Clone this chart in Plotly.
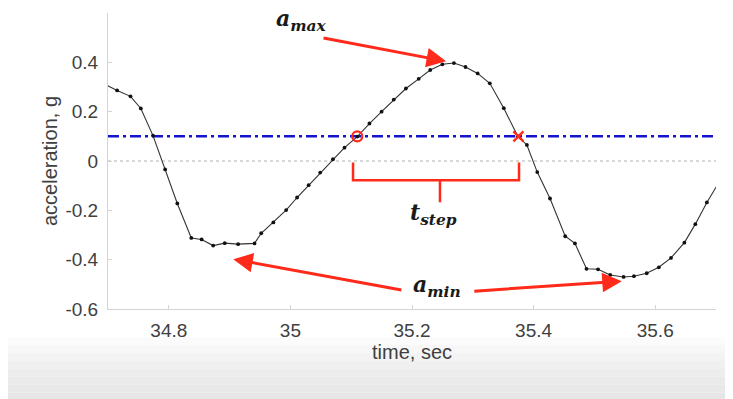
import plotly.graph_objects as go

# ---- data ----
time_s = [34.696, 34.715, 34.737, 34.754, 34.774, 34.794, 34.814, 34.837, 34.854, 34.873,
          34.892, 34.914, 34.941, 34.952, 34.972, 34.993, 35.011, 35.030, 35.049, 35.070,
          35.089, 35.110, 35.130, 35.150, 35.170, 35.190, 35.211, 35.230, 35.250, 35.269,
          35.288, 35.308, 35.328, 35.351, 35.374, 35.389, 35.406, 35.427, 35.452, 35.468,
          35.487, 35.506, 35.526, 35.548, 35.565, 35.586, 35.606, 35.626, 35.648, 35.666,
          35.685, 35.704]
accel_g = [0.310, 0.286, 0.262, 0.213, 0.103, -0.034, -0.172, -0.312, -0.318, -0.343,
           -0.333, -0.337, -0.334, -0.293, -0.249, -0.199, -0.148, -0.098, -0.047, 0.007,
           0.054, 0.099, 0.152, 0.200, 0.249, 0.294, 0.333, 0.369, 0.392, 0.397,
           0.381, 0.355, 0.315, 0.214, 0.100, 0.065, -0.045, -0.152, -0.305, -0.334,
           -0.437, -0.439, -0.462, -0.470, -0.467, -0.455, -0.431, -0.393, -0.331, -0.256,
           -0.168, -0.090]
threshold = 0.1
cross_up = (35.110, 0.1)
cross_down = (35.375, 0.1)

x_ticks = [34.8, 35.0, 35.2, 35.4, 35.6]
x_tick_text = ["34.8", "35", "35.2", "35.4", "35.6"]
y_ticks = [-0.6, -0.4, -0.2, 0, 0.2, 0.4]
y_tick_text = ["-0.6", "-0.4", "-0.2", "0", "0.2", "0.4"]
x_range = [34.7, 35.7]
y_range = [-0.6, 0.6]

RED = "#ff2a1a"
TXT = "#404040"
AXC = "#d4d4d4"

fig = go.Figure()

# zero line (dotted grey)
fig.add_trace(go.Scatter(x=x_range, y=[0, 0], mode="lines",
                         line=dict(color="#b0b0b0", width=1, dash="dot"),
                         hoverinfo="skip", showlegend=False))
# threshold dash-dot blue
fig.add_trace(go.Scatter(x=x_range, y=[threshold, threshold], mode="lines",
                         line=dict(color="#1414cc", width=2.5, dash="11px,4px,3px,4px"),
                         hoverinfo="skip", showlegend=False))
# signal
fig.add_trace(go.Scatter(x=time_s, y=accel_g, mode="lines+markers",
                         line=dict(color="#333333", width=1.1),
                         marker=dict(color="#111111", size=3.8),
                         showlegend=False))
# crossing markers
fig.add_trace(go.Scatter(x=[cross_up[0]], y=[cross_up[1]], mode="markers",
                         marker=dict(symbol="circle-open", color=RED, size=10,
                                     line=dict(width=2.2, color=RED)),
                         showlegend=False))
fig.add_trace(go.Scatter(x=[cross_down[0]], y=[cross_down[1]], mode="markers",
                         marker=dict(symbol="x-thin-open", color=RED, size=10,
                                     line=dict(width=2.4, color=RED)),
                         showlegend=False))

shapes = []
# bottom gradient band (screenshot backdrop)
grays = ["#fbfbfb", "#f7f7f7", "#f3f3f3", "#f0f0f0", "#ededed", "#eaeaea", "#e8e8e8", "#e6e6e6"]
y0 = -0.0946
y1 = -0.31
n = len(grays)
for i, g in enumerate(grays):
    a = y0 + (y1 - y0) * i / n
    b = y0 + (y1 - y0) * (i + 1) / n
    shapes.append(dict(type="rect", xref="paper", yref="paper", x0=-0.1645, x1=1.03,
                       y0=b, y1=a, fillcolor=g, line=dict(width=0), layer="below"))

# t_step bracket
bx0, bx1, bxm = 35.103, 35.376, 35.246
shapes.append(dict(type="path", xref="x", yref="y",
                   path=f"M {bx0},-0.006 L {bx0},-0.078 L {bx1},-0.078 L {bx1},-0.006 "
                        f"M {bxm},-0.078 L {bxm},-0.167",
                   line=dict(color=RED, width=2.5)))

math_font = dict(family="DejaVu Serif, Liberation Serif, serif", size=22, color="#1a1a1a")

annotations = [
    dict(x=35.019, y=0.572, xref="x", yref="y", showarrow=False,
         text="<b><i>a</i></b><sub><b><i>max</i></b></sub>", font=math_font),
    dict(x=35.235, y=-0.215, xref="x", yref="y", showarrow=False,
         text="<b><i>t</i></b><sub><b><i>step</i></b></sub>", font=math_font),
    dict(x=35.241, y=-0.505, xref="x", yref="y", showarrow=False,
         text="<b><i>a</i></b><sub><b><i>min</i></b></sub>", font=math_font),
    # arrows
    dict(x=35.256, y=0.404, ax=35.052, ay=0.50, xref="x", yref="y", axref="x", ayref="y",
         showarrow=True, arrowhead=2, arrowsize=1.3, arrowwidth=3, arrowcolor=RED, text=""),
    dict(x=34.906, y=-0.398, ax=35.185, ay=-0.524, xref="x", yref="y", axref="x", ayref="y",
         showarrow=True, arrowhead=2, arrowsize=1.3, arrowwidth=3, arrowcolor=RED, text=""),
    dict(x=35.545, y=-0.487, ax=35.300, ay=-0.528, xref="x", yref="y", axref="x", ayref="y",
         showarrow=True, arrowhead=2, arrowsize=1.3, arrowwidth=3, arrowcolor=RED, text=""),
]

# the page body has an 8px margin, so the figure is 725x391 and placed at (8, 8)
fig.update_layout(
    width=725, height=391,
    margin=dict(l=100, r=17, t=5, b=90),
    paper_bgcolor="white", plot_bgcolor="white",
    font=dict(family="Liberation Sans, Arial, sans-serif", size=19, color=TXT),
    shapes=shapes, annotations=annotations,
    xaxis=dict(range=x_range, tickvals=x_ticks, ticktext=x_tick_text,
               showgrid=False, zeroline=False, showline=True, linecolor=AXC, linewidth=1,
               ticks="inside", ticklen=4, tickcolor=AXC, ticklabelstandoff=4,
               tickfont=dict(size=19, color=TXT),
               title=dict(text="time, sec", standoff=3, font=dict(size=20, color=TXT))),
    yaxis=dict(range=y_range, tickvals=y_ticks, ticktext=y_tick_text,
               showgrid=False, zeroline=False, showline=True, linecolor=AXC, linewidth=1,
               ticks="inside", ticklen=4, tickcolor=AXC, ticklabelstandoff=5,
               tickfont=dict(size=19, color=TXT),
               title=dict(text="acceleration, g", standoff=2, font=dict(size=20, color=TXT))),
)

fig.write_html("out.html")
